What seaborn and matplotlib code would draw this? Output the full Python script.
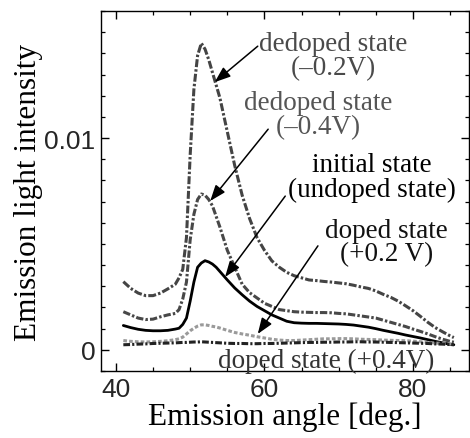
import matplotlib
matplotlib.use("Agg")
import matplotlib.pyplot as plt
import seaborn as sns
import pandas as pd
import numpy as np
from matplotlib.ticker import MultipleLocator

angle = [41, 42, 43, 44, 45, 46, 47, 48, 48.5, 49, 49.5, 50, 50.5, 51, 51.5, 52, 52.5, 53, 53.5, 54,
         55, 56, 57, 58, 59, 60, 61, 62, 63, 64, 65, 66, 67, 68, 69, 70, 71, 72, 73, 74,
         75, 76, 77, 78, 79, 80, 81, 82, 83, 84, 85, 85.5]

dedoped_02 = [0.00322, 0.0029, 0.00268, 0.00256, 0.00256, 0.00268, 0.00288, 0.0031, 0.0034, 0.0038,
              0.0053, 0.0092, 0.0123, 0.0139, 0.01448, 0.0142, 0.0137, 0.0131, 0.0125, 0.0119,
              0.0103, 0.0087, 0.0073, 0.0062, 0.0053, 0.0047, 0.0042, 0.0039, 0.00366, 0.0035,
              0.0034, 0.0033, 0.00327, 0.00323, 0.0032, 0.00316, 0.00312, 0.00305, 0.00297, 0.0029,
              0.00278, 0.00262, 0.00248, 0.0023, 0.00208, 0.00185, 0.00158, 0.0013, 0.00105, 0.00085,
              0.00066, 0.00058]

dedoped_04 = [0.0018, 0.00165, 0.0015, 0.00143, 0.00145, 0.00156, 0.00165, 0.00172, 0.0019, 0.0024,
              0.0032, 0.0052, 0.0064, 0.0071, 0.00736, 0.0073, 0.0071, 0.0068, 0.0063, 0.0058,
              0.0047, 0.0039, 0.0031, 0.0027, 0.00245, 0.0022, 0.00205, 0.0019, 0.00185, 0.0018,
              0.00178, 0.00177, 0.00176, 0.00176, 0.00175, 0.00172, 0.0017, 0.00165, 0.0016, 0.00155,
              0.0015, 0.0014, 0.0013, 0.0012, 0.0011, 0.00098, 0.00087, 0.00075, 0.00062, 0.0005,
              0.0004, 0.00036]

initial = [0.00115, 0.00105, 0.00097, 0.00092, 0.0009, 0.0009, 0.00092, 0.00098, 0.00102, 0.0012,
           0.0015, 0.0023, 0.0032, 0.0039, 0.0041, 0.00421, 0.00415, 0.00405, 0.0039, 0.0037,
           0.0033, 0.00292, 0.0026, 0.0023, 0.00205, 0.00185, 0.00165, 0.0015, 0.00135, 0.00128,
           0.00126, 0.00125, 0.00125, 0.00124, 0.00123, 0.00122, 0.0012, 0.00117, 0.00112, 0.00107,
           0.001, 0.00092, 0.00085, 0.00078, 0.0007, 0.00063, 0.00056, 0.00048, 0.0004, 0.00033,
           0.00026, 0.00024]

doped_02 = [0.00044, 0.0004, 0.00038, 0.00037, 0.00038, 0.0004, 0.00043, 0.00048, 0.00052, 0.0006,
            0.00075, 0.0009, 0.00102, 0.00112, 0.00118, 0.00118, 0.00115, 0.00111, 0.00108, 0.00103,
            0.00092, 0.00082, 0.00075, 0.00069, 0.00062, 0.00056, 0.0005, 0.00046, 0.00044, 0.00044,
            0.00046, 0.00048, 0.0005, 0.00052, 0.00052, 0.00053, 0.00053, 0.00052, 0.0005, 0.00049,
            0.00048, 0.00046, 0.00045, 0.00044, 0.00043, 0.00041, 0.00038, 0.00035, 0.00032, 0.0003,
            0.00028, 0.00027]

doped_04 = [0.00024, 0.00025, 0.00027, 0.00028, 0.0003, 0.00031, 0.00032, 0.00033, 0.00034, 0.00035,
            0.00035, 0.00036, 0.00037, 0.00037, 0.00038, 0.00037, 0.00036, 0.00035, 0.00034, 0.00033,
            0.00031, 0.0003, 0.0003, 0.00029, 0.00029, 0.0003, 0.0003, 0.00031, 0.00032, 0.00033,
            0.00034, 0.00035, 0.00035, 0.00036, 0.00036, 0.00037, 0.00037, 0.00038, 0.00038, 0.00037,
            0.00037, 0.00036, 0.00035, 0.00034, 0.00033, 0.00032, 0.00031, 0.0003, 0.00028, 0.00027,
            0.00025, 0.00024]

labels = ["dedoped state\n(\u20130.2V)", "dedoped state\n(\u20130.4V)",
          "initial state\n(undoped state)", "doped state\n(+0.2 V)", "doped state (+0.4V)"]

sns.set_theme(style="ticks")
plt.rcParams['font.family'] = ['Liberation Sans', 'DejaVu Sans']

fig = plt.figure(figsize=(4.70, 4.39), dpi=100)
ax = fig.add_axes([0.215, 0.1526, 0.783, 0.82])

series = [
    (dedoped_02, "#444444", (2.6, 0.7, 0.8, 0.7), 2.2),
    (dedoped_04, "#484848", (2.4, 0.7, 0.8, 0.7), 2.2),
    (initial, "#000000", None, 2.0),
    (doped_02, "#9a9a9a", (1.2, 0.7), 2.2),
    (doped_04, "#222222", (2.2, 0.7, 0.7, 0.7), 2.2),
]
for vals, col, dash, lw in series:
    df = pd.DataFrame({"angle": angle, "val": vals})
    sns.lineplot(data=df, x="angle", y="val", color=col, linewidth=lw, ax=ax)
    line = ax.lines[-1]
    if dash is not None:
        line.set_dashes(dash)

ax.set_xlim(38.0, 87.55)
ax.set_ylim(-0.001, 0.016)
ax.xaxis.set_major_locator(MultipleLocator(20))
ax.xaxis.set_minor_locator(MultipleLocator(5))
ax.yaxis.set_major_locator(MultipleLocator(0.01))
ax.yaxis.set_minor_locator(MultipleLocator(0.001))
ax.set_xticks([40, 60, 80])
ax.set_xticklabels(["40", "60", "80"])
ax.set_yticks([0, 0.01])
ax.set_yticklabels(["0", "0.01"])
ax.tick_params(which='both', direction='in', top=True, right=True, color='black')
ax.tick_params(which='major', length=6, width=1.0, labelsize=19, pad=4)
ax.tick_params(which='minor', length=3, width=0.9)
for s in ax.spines.values():
    s.set_color('black')
    s.set_linewidth(1.0)

serif = ['Liberation Serif', 'DejaVu Serif']
ax.set_xlabel("Emission angle [deg.]", family=serif, fontsize=22.5, color='black', labelpad=1)
ax.set_ylabel("Emission light intensity", family=serif, fontsize=22.5, color='black', labelpad=1)

txt_pos = [(69.3, 0.0139), (67.3, 0.01113), (74.5, 0.00816), (76.4, 0.00509), (68.3, -0.00048)]
txt_col = ["#4a4a4a", "#555555", "#000000", "#111111", "#333333"]
for lab, (tx, ty), c in zip(labels, txt_pos, txt_col):
    ax.text(tx, ty, lab, family=serif, fontsize=19.5, color=c, ha='center', va='center',
            linespacing=0.95)

arrows = [((59.1, 0.01434), (53.3, 0.01264)),
          ((60.5, 0.01042), (52.7, 0.00703)),
          ((62.8, 0.00726), (54.7, 0.00344)),
          ((67.2, 0.00491), (59.1, 0.00075))]
for (sx, sy), (ex, ey) in arrows:
    ax.annotate("", xy=(ex, ey), xytext=(sx, sy),
                arrowprops=dict(arrowstyle="-|>,head_length=0.8,head_width=0.3",
                                color='black', lw=1.1, shrinkA=0, shrinkB=0))

fig.savefig("out.png", dpi=100)
